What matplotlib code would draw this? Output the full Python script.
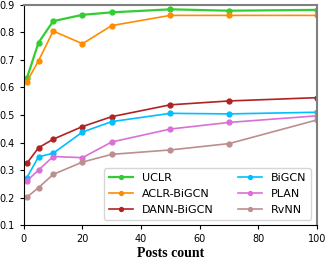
import matplotlib.pyplot as plt

# Anzahl der Posts
posts = [1, 5, 10, 20, 30, 50, 70, 100]

uclr = [0.633, 0.763, 0.841, 0.864, 0.873, 0.884, 0.879, 0.882]
aclr = [0.621, 0.697, 0.805, 0.759, 0.825, 0.862, 0.862, 0.862]
dann = [0.324, 0.381, 0.412, 0.458, 0.494, 0.537, 0.551, 0.563]
bigcn = [0.272, 0.348, 0.361, 0.438, 0.476, 0.506, 0.504, 0.510]
plan = [0.260, 0.300, 0.349, 0.345, 0.402, 0.449, 0.473, 0.497]
rvnn = [0.201, 0.236, 0.284, 0.329, 0.357, 0.373, 0.396, 0.482]

fig = plt.figure(figsize=(3.27, 2.59), dpi=100)
ax = fig.add_axes([0.073, 0.131, 0.896, 0.850])

ax.plot(posts, uclr, marker='o', ms=3.5, lw=1.6, color='#32CD32', label='UCLR')
ax.plot(posts, aclr, marker='o', ms=3.5, lw=1.2, color='#FF8C00', label='ACLR-BiGCN')
ax.plot(posts, dann, marker='o', ms=3.5, lw=1.2, color='#B22222', label='DANN-BiGCN')
ax.plot(posts, bigcn, marker='o', ms=3.5, lw=1.2, color='#00BFFF', label='BiGCN')
ax.plot(posts, plan, marker='o', ms=3.5, lw=1.2, color='#DA70D6', label='PLAN')
ax.plot(posts, rvnn, marker='o', ms=3.5, lw=1.2, color='#BC8F8F', label='RvNN')

ax.set_xlim(0, 100)
ax.set_ylim(0.1, 0.9)
ax.set_xticks([0, 20, 40, 60, 80, 100])
ax.set_yticks([0.1, 0.2, 0.3, 0.4, 0.5, 0.6, 0.7, 0.8, 0.9])
ax.tick_params(labelsize=7, length=3, width=0.8)
ax.spines['top'].set_color('gray')
ax.spines['right'].set_color('gray')
ax.spines['top'].set_linewidth(1.5)
ax.spines['right'].set_linewidth(1.5)

ax.set_xlabel('Posts count', family='Liberation Serif', fontweight='bold', fontsize=10, labelpad=2)
ax.legend(loc='lower right', ncol=2, fontsize=8, columnspacing=2.2, handlelength=2.2,
          labelspacing=0.55, markerscale=0.8, borderaxespad=0.5, fancybox=True)

plt.savefig('out.png', dpi=100)
